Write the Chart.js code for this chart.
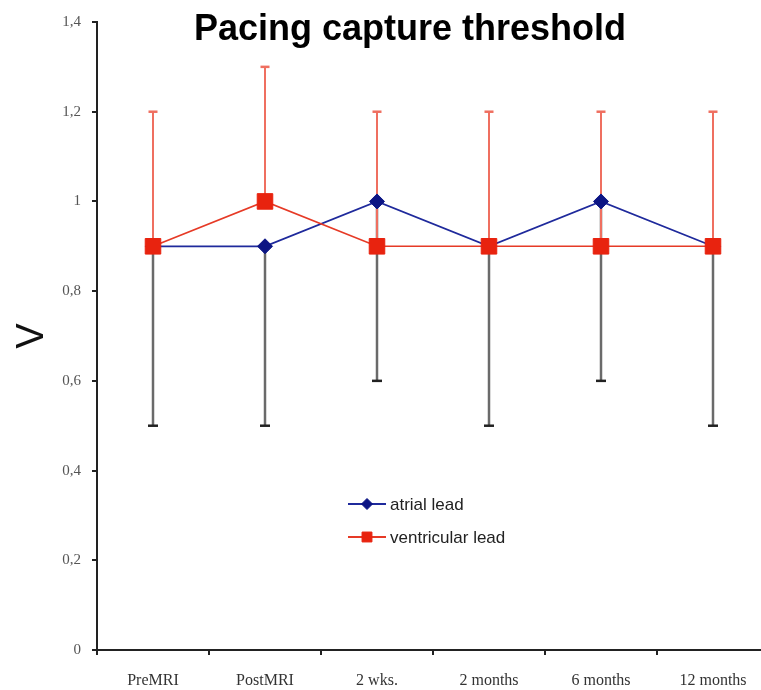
<!DOCTYPE html>
<html>
<head>
<meta charset="utf-8">
<style>
  html, body { margin: 0; padding: 0; background: #fff; overflow: hidden; }
  #wrap { width: 781px; height: 690px; }
</style>
<script src="https://cdn.jsdelivr.net/npm/chart.js@4"></script>
</head>
<body>
<div id="wrap"><canvas id="chart" width="781" height="690"></canvas></div>
<script>
/* Pacing capture threshold — atrial vs ventricular lead, mean with one-sided SD bars */

const categories = ['PreMRI', 'PostMRI', '2 wks.', '2 months', '6 months', '12 months'];
const atrial = [0.9, 0.9, 1.0, 0.9, 1.0, 0.9];
const ventricular = [0.9, 1.0, 0.9, 0.9, 0.9, 0.9];
const atrialLower = [0.5, 0.5, 0.6, 0.5, 0.6, 0.5];
const ventricularUpper = [1.2, 1.3, 1.2, 1.2, 1.2, 1.2];
const yTicks = [0, 0.2, 0.4, 0.6, 0.8, 1.0, 1.2, 1.4];

const COL = {
    blue: '#1f2a9c', blueMark: '#0c1584',
    red: '#e63a26', redMark: '#e8230f', redBar: '#ef6f60',
    dark: '#6a6a6a', cap: '#222',
};

const fmt = (v) => String(+Number(v).toFixed(1)).replace('.', ',');

// error bars are drawn under the lines, grey ones first so red sits on top
const errorBars = {
    id: 'errorBars',
    beforeDatasetsDraw(chart) {
        const { ctx, scales: { x, y } } = chart;
        const seg = (x1, y1, x2, y2) => { ctx.beginPath(); ctx.moveTo(x1, y1); ctx.lineTo(x2, y2); ctx.stroke(); };
        ctx.save();
        categories.forEach((c, i) => {
            const px = x.getPixelForValue(i);
            const lo = y.getPixelForValue(atrialLower[i]);
            ctx.strokeStyle = COL.dark; ctx.lineWidth = 2.5;
            seg(px, y.getPixelForValue(atrial[i]), px, lo);
            ctx.strokeStyle = COL.cap; ctx.lineWidth = 2.5;
            seg(px - 5, lo, px + 5, lo);
        });
        categories.forEach((c, i) => {
            const px = x.getPixelForValue(i);
            const hi = y.getPixelForValue(ventricularUpper[i]);
            ctx.strokeStyle = COL.redBar; ctx.lineWidth = 2;
            seg(px, y.getPixelForValue(ventricular[i]), px, hi);
            ctx.lineWidth = 2.5;
            seg(px - 4.5, hi, px + 4.5, hi);
        });
        ctx.restore();
    },
};

// title overlaps the plot top in the original, so it's painted by hand
const overlay = {
    id: 'overlay',
    afterDraw(chart) {
        const { ctx, chartArea: a } = chart;
        ctx.save();
        ctx.fillStyle = '#000';
        ctx.font = 'bold 36px "Liberation Sans", Arial, sans-serif';
        ctx.textAlign = 'center';
        ctx.textBaseline = 'alphabetic';
        ctx.fillText('Pacing capture threshold', a.left + 313, 40);

        const items = [
            { label: 'atrial lead', line: COL.blue, mark: COL.blueMark, style: 'rectRot', r: 5.5, dy: 146 },
            { label: 'ventricular lead', line: COL.red, mark: COL.redMark, style: 'rect', r: 7, dy: 113 },
        ];
        const x0 = a.left + 251;
        items.forEach((it) => {
            const yy = a.bottom - it.dy;
            ctx.strokeStyle = it.line; ctx.lineWidth = 2;
            ctx.beginPath(); ctx.moveTo(x0, yy); ctx.lineTo(x0 + 38, yy); ctx.stroke();
            ctx.fillStyle = it.mark; ctx.strokeStyle = it.mark; ctx.lineWidth = 1;
            Chart.helpers.drawPoint(ctx, { pointStyle: it.style, radius: it.r, borderWidth: 1 }, x0 + 19, yy);
            ctx.fillStyle = '#222';
            ctx.font = '17px "Liberation Sans", Arial, sans-serif';
            ctx.textAlign = 'left';
            ctx.textBaseline = 'middle';
            ctx.fillText(it.label, x0 + 42, yy + 1);
        });
        ctx.restore();
    },
};

new Chart(document.getElementById('chart'), {
    type: 'line',
    data: {
        labels: categories,
        datasets: [
            {
                label: 'ventricular lead', data: ventricular, order: 0,
                borderColor: COL.red, borderWidth: 1.6,
                pointStyle: 'rect', pointRadius: 11, pointBackgroundColor: COL.redMark,
                pointBorderColor: COL.redMark, pointBorderWidth: 1, tension: 0,
            },
            {
                label: 'atrial lead', data: atrial, order: 1,
                borderColor: COL.blue, borderWidth: 1.8,
                pointStyle: 'rectRot', pointRadius: 7.5, pointBackgroundColor: COL.blueMark,
                pointBorderColor: COL.blueMark, pointBorderWidth: 1, tension: 0,
            },
        ],
    },
    options: {
        responsive: false,
        animation: false,
        events: [],
        layout: { padding: { left: 2, top: 22, right: 3, bottom: 0 } },
        plugins: { legend: { display: false }, tooltip: { enabled: false }, title: { display: false } },
        scales: {
            x: {
                offset: true,
                grid: { offset: true, drawOnChartArea: false, tickLength: 5, color: '#222', lineWidth: 2 },
                border: { color: '#222', width: 2 },
                ticks: {
                    font: { family: '"Liberation Serif", "Times New Roman", serif', size: 16 },
                    color: '#333', padding: 16, maxRotation: 0, autoSkip: false,
                },
                afterFit: (s) => { s.height = 40; },
            },
            y: {
                min: 0, max: 1.4,
                afterBuildTicks: (s) => { s.ticks = yTicks.map((v) => ({ value: v })); },
                grid: { drawOnChartArea: false, tickLength: 5, color: '#222', lineWidth: 2 },
                border: { color: '#222', width: 2 },
                ticks: {
                    font: { family: '"Liberation Serif", "Times New Roman", serif', size: 15 },
                    color: '#555', padding: 11, callback: (v) => fmt(v),
                },
                title: {
                    display: true, text: 'V', color: '#111', padding: { top: 8, bottom: 0 },
                    font: { family: '"Liberation Sans", Arial, sans-serif', size: 38 },
                },
                afterFit: (s) => { s.width = 95; },
            },
        },
    },
    plugins: [errorBars, overlay],
});
</script>
</body>
</html>
